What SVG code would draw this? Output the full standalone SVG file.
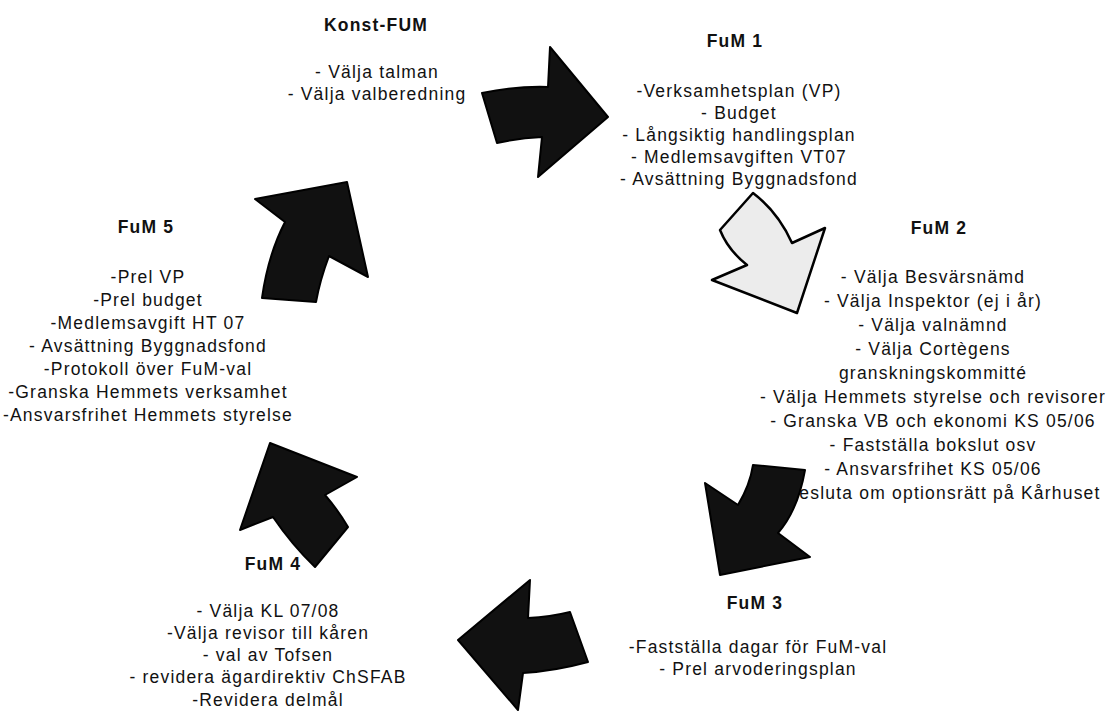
<svg xmlns="http://www.w3.org/2000/svg" width="1108" height="711" viewBox="0 0 1108 711">
<style>
  text { font-family: "Liberation Sans", Arial, sans-serif; font-size: 17.5px; letter-spacing: 1.2px; fill: #111; text-anchor: middle; }
  .h { font-weight: bold; }
  .dark { fill: #111; stroke: #000; stroke-width: 2; stroke-linejoin: round; }
  .light { fill: #ececec; stroke: #000; stroke-width: 2.5; stroke-linejoin: round; }
</style>
<rect width="1108" height="711" fill="#fff"/>
<g id="konst-fum">
  <text class="h" x="376" y="31">Konst-FUM</text>
  <text x="377" y="78">- Välja talman</text>
  <text x="377" y="100">- Välja valberedning</text>
</g>
<g id="fum1">
  <text class="h" x="735" y="47">FuM 1</text>
  <text x="739" y="97">-Verksamhetsplan (VP)</text>
  <text x="739" y="119">- Budget</text>
  <text x="739" y="141">- Långsiktig handlingsplan</text>
  <text x="739" y="163">- Medlemsavgiften VT07</text>
  <text x="739" y="185">- Avsättning Byggnadsfond</text>
</g>
<g id="fum2">
  <text class="h" x="939" y="234">FuM 2</text>
  <text x="933" y="283">- Välja Besvärsnämd</text>
  <text x="933" y="307">- Välja Inspektor (ej i år)</text>
  <text x="933" y="331">- Välja valnämnd</text>
  <text x="933" y="355">- Välja Cortègens</text>
  <text x="933" y="379">granskningskommitté</text>
  <text x="933" y="403">- Välja Hemmets styrelse och revisorer</text>
  <text x="933" y="427">- Granska VB och ekonomi KS 05/06</text>
  <text x="933" y="451">- Fastställa bokslut osv</text>
  <text x="933" y="475">- Ansvarsfrihet KS 05/06</text>
  <text x="937" y="499">- Besluta om optionsrätt på Kårhuset</text>
</g>
<g id="fum3">
  <text class="h" x="755" y="609">FuM 3</text>
  <text x="758" y="653">-Fastställa dagar för FuM-val</text>
  <text x="758" y="675">- Prel arvoderingsplan</text>
</g>
<g id="fum4">
  <text class="h" x="273" y="570">FuM 4</text>
  <text x="268" y="617">- Välja KL 07/08</text>
  <text x="268" y="639">-Välja revisor till kåren</text>
  <text x="268" y="661">- val av Tofsen</text>
  <text x="268" y="683">- revidera ägardirektiv ChSFAB</text>
  <text x="268" y="706">-Revidera delmål</text>
</g>
<g id="fum5">
  <text class="h" x="146" y="233">FuM 5</text>
  <text x="148" y="283">-Prel VP</text>
  <text x="148" y="306">-Prel budget</text>
  <text x="148" y="329">-Medlemsavgift HT 07</text>
  <text x="148" y="352">- Avsättning Byggnadsfond</text>
  <text x="148" y="375">-Protokoll över FuM-val</text>
  <text x="148" y="398">-Granska Hemmets verksamhet</text>
  <text x="148" y="421">-Ansvarsfrihet Hemmets styrelse</text>
</g>
<g id="connectors">
  <path class="dark" d="M482,93 Q515,86 548,87 L550,47 L608,117 L538,177 L542,137 Q520,138 497,143 Z"/>
  <path class="light" d="M753,193 Q778,212 792,243 L825,228 L797,313 L712,280 L747,265 Q728,250 720,230 Z"/>
  <path class="dark" d="M753,465 L805,470 Q798,510 778,533 L810,557 L720,575 L705,483 L738,505 Q750,485 753,465 Z"/>
  <path class="dark" d="M530,580 L528,618 Q550,617 570,612 L588,662 Q555,671 523,673 L518,710 L458,640 Z"/>
  <path class="dark" d="M270,443 L357,477 L325,495 Q338,510 348,527 L315,567 Q292,545 273,517 L240,530 Z"/>
  <path class="dark" d="M347,182 L368,277 L329,256 Q320,280 316,302 L262,298 Q268,255 285,222 L255,199 Z"/>
</g>
</svg>
